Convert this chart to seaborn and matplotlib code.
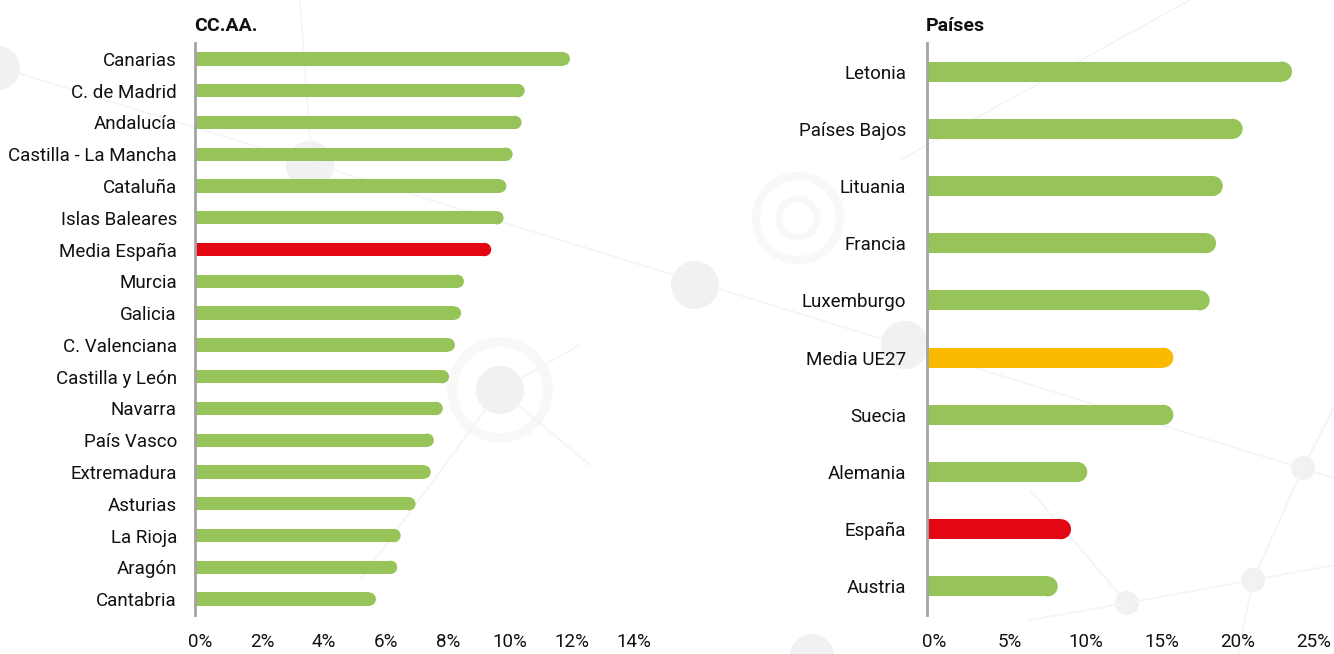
import numpy as np
import pandas as pd
import matplotlib
matplotlib.use("Agg")
import matplotlib.pyplot as plt
import matplotlib.transforms as mtransforms
from matplotlib import font_manager
from matplotlib.patches import Circle
import seaborn as sns

# -----------------------------
# Data
# -----------------------------
ccaa = ["Canarias", "C. de Madrid", "Andalucía", "Castilla - La Mancha", "Cataluña",
        "Islas Baleares", "Media España", "Murcia", "Galicia", "C. Valenciana",
        "Castilla y León", "Navarra", "País Vasco", "Extremadura", "Asturias",
        "La Rioja", "Aragón", "Cantabria"]
ccaa_val = [11.88, 10.42, 10.32, 10.03, 9.83, 9.74, 9.34, 8.46, 8.37, 8.17,
            7.98, 7.78, 7.49, 7.39, 6.90, 6.42, 6.31, 5.62]

paises = ["Letonia", "Países Bajos", "Lituania", "Francia", "Luxemburgo",
          "Media UE27", "Suecia", "Alemania", "España", "Austria"]
paises_val = [23.36, 20.11, 18.80, 18.36, 17.94, 15.55, 15.55, 9.89, 8.82, 7.94]

ccaa_ticks = [0, 2, 4, 6, 8, 10, 12, 14]
paises_ticks = [0, 5, 10, 15, 20, 25]

GREEN = "#96C458"
RED = "#E30613"
YELLOW = "#FBBA00"
AXIS_GREY = "#A3A3A3"

ccaa_col = [RED if n == "Media España" else GREEN for n in ccaa]
paises_col = [RED if n == "España" else YELLOW if n == "Media UE27" else GREEN for n in paises]

# -----------------------------
# Style / fonts
# -----------------------------
sns.set_theme(style="white")
installed = {f.name for f in font_manager.fontManager.ttflist}
if "Liberation Sans Narrow" in installed:
    FONT, LAB, TICK, TITLE = "Liberation Sans Narrow", 16, 14.5, 14.5
else:
    FONT, LAB, TICK, TITLE = "Roboto", 13.5, 13.5, 14
plt.rcParams["font.family"] = [FONT, "DejaVu Sans"]

W, H = 1334, 654
fig = plt.figure(figsize=(W / 100, H / 100), dpi=100)

# -----------------------------
# Background decoration (faint network)
# -----------------------------
bg = fig.add_axes([0, 0, 1, 1], zorder=-1)
bg.set_xlim(0, W)
bg.set_ylim(H, 0)
bg.axis("off")
line_col = "#F4F4F6"
for xs, ys in [([-5, 1340], [66, 480]),
               ([300, 312], [0, 165]),
               ([500, 580], [390, 345]),
               ([500, 590], [390, 465]),
               ([500, 360], [390, 580]),
               ([1030, 1127], [490, 603]),
               ([1030, 1127, 1253, 1340], [620, 603, 580, 564]),
               ([1253, 1303, 1340], [580, 468, 395]),
               ([1253, 1238], [580, 654]),
               ([900, 1190], [160, 0])]:
    bg.plot(xs, ys, color=line_col, lw=1.2)
for cx, cy, r in [(310, 165, 24), (695, 285, 24), (500, 390, 24), (905, 345, 24),
                  (1303, 468, 12), (1253, 580, 12), (1127, 603, 12), (812, 656, 22),
                  (-2, 68, 22)]:
    bg.add_patch(Circle((cx, cy), r, color="#F1F1F4", lw=0))
for cx, cy, r, w in [(500, 390, 48, 7), (798, 218, 42, 6), (798, 218, 19, 5)]:
    bg.add_patch(Circle((cx, cy), r, fill=False, ec="#F8F8F9", lw=w))


# -----------------------------
# Rounded bar panels
# -----------------------------
def panel(rect, names, vals, cols, ticks, xmax, bar_w, cap_pt, pad, dx, title):
    ax = fig.add_axes(rect)
    ax.patch.set_alpha(0)
    df = pd.DataFrame({"name": names, "val": vals})
    sns.barplot(data=df, x="val", y="name", hue="name", palette=cols, legend=False,
                width=bar_w, saturation=1, linewidth=0, ax=ax)
    # round end caps
    sns.scatterplot(x=vals, y=np.arange(len(vals)), hue=names, palette=cols,
                    s=cap_pt ** 2, linewidth=0, legend=False, ax=ax, zorder=3)
    ax.set_xlim(0, xmax)
    ax.set_ylim(len(names) - 0.5, -0.5)
    ax.set_xticks(ticks)
    ax.set_xticklabels([f"{t}%" for t in ticks], fontsize=TICK, color="#111111")
    ax.set_yticks(np.arange(len(names)))
    ax.set_yticklabels(names, fontsize=LAB, color="#111111")
    ax.tick_params(axis="y", length=0, pad=pad)
    ax.tick_params(axis="x", length=0, pad=13)
    off = mtransforms.ScaledTranslation(dx / 100, 0, fig.dpi_scale_trans)
    for lb in ax.get_xticklabels():
        lb.set_transform(lb.get_transform() + off)
    ax.set_xlabel("")
    ax.set_ylabel("")
    for s in ["top", "right", "bottom"]:
        ax.spines[s].set_visible(False)
    ax.spines["left"].set_color(AXIS_GREY)
    ax.spines["left"].set_linewidth(2)
    ax.spines["left"].set_zorder(5)
    fig.text(rect[0] - 1 / W, 1 - 31 / H, title, fontsize=TITLE, fontweight="bold",
             ha="left", va="baseline", color="#111111")
    return ax


top, bottom = 43, 615
h = (bottom - top) / H
y0 = 1 - bottom / H

panel([195 / W, y0, 14.2 * 31.0 / W, h], ccaa, ccaa_val, ccaa_col, ccaa_ticks,
      14.2, 0.42, 9.6, 13, 5, "CC.AA.")
panel([927 / W, y0, 25.5 * 15.2 / W, h], paises, paises_val, paises_col, paises_ticks,
      25.5, 0.35, 14.4, 15, 7, "Países")

plt.savefig("out.png", dpi=100)
